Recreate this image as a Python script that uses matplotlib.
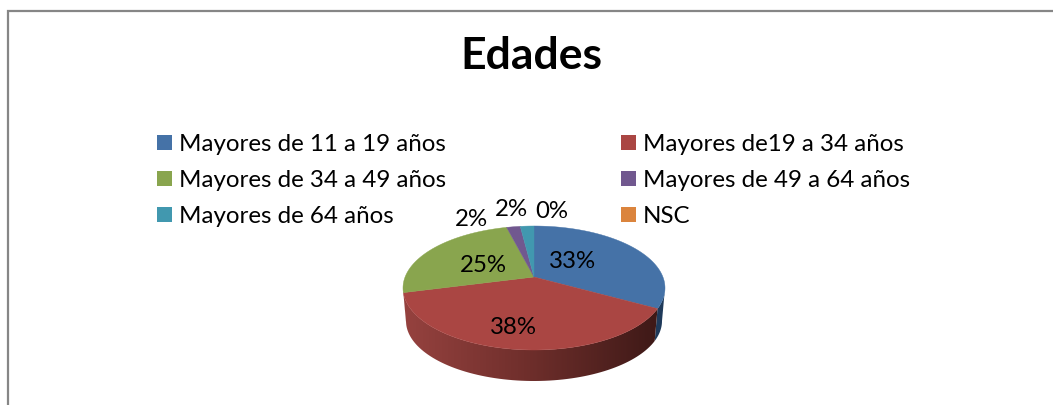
import numpy as np
import matplotlib
matplotlib.use('Agg')
import matplotlib.pyplot as plt
from matplotlib.colors import LinearSegmentedColormap
from matplotlib.patches import Patch, Polygon

title = 'Edades'
categories = ['Mayores de 11 a 19 años', 'Mayores de19 a 34 años', 'Mayores de 34 a 49 años',
              'Mayores de 49 a 64 años', 'Mayores de 64 años', 'NSC']
values = [33, 38, 25, 2, 2, 0]
colors = ['#4572A7', '#AA4643', '#89A54E', '#71588F', '#4198AF', '#DB843D']
side_colors = ['#1F3A5A', None, None, None, None, None]

label_pos = [(572, 261), (513, 327), (483, 265), (471, 220), (511, 210), (552, 211)]

plt.rcParams['font.family'] = ['Lato', 'DejaVu Sans']

# top face ellipse and bottom rim, in pixels
CX, CY, RX, RY = 534, 288, 131, 62
BX, BY, BRX, BRY = 534, 321, 128, 60
K = 11 / 62  # pushes the apex up, fakes the perspective


def rim(theta, cx, cy, rx, ry):
    u = np.sin(theta)
    v = np.cos(theta)
    d = 1 + K * v
    return np.column_stack([cx + rx * u * np.sqrt(1 - K ** 2) / d,
                            cy - ry * (v + K) / d])


fig = plt.figure(figsize=(10.53, 4.05), dpi=100)
ax = fig.add_axes([0, 0, 1, 1])

fracs = np.array(values) / sum(values)
edges = np.concatenate([[0], np.cumsum(fracs)]) * 2 * np.pi
sil = np.pi + np.arccos(K)          # left end of the visible side
sil_r = np.pi - np.arccos(K)        # right end

# side wall
cmap = LinearSegmentedColormap.from_list('side', ['#96423F', '#6E2E2B', '#3E1917'])
for i in range(len(values)):
    a, b = max(edges[i], sil_r), min(edges[i + 1], sil)
    if b <= a:
        continue
    t = np.linspace(a, b, 80)
    pts = np.vstack([rim(t, CX, CY, RX, RY), rim(t[::-1], BX, BY, BRX, BRY)])
    if side_colors[i]:
        ax.add_patch(Polygon(pts, closed=True, fc=side_colors[i], ec='none', zorder=2))
    else:
        face = Polygon(pts, closed=True, fc='none', ec='none', zorder=2)
        ax.add_patch(face)
        im = ax.imshow(np.linspace(0, 1, 256).reshape(1, -1), cmap=cmap, aspect='auto',
                       extent=(pts[:, 0].min(), pts[:, 0].max(), pts[:, 1].max(), pts[:, 1].min()), zorder=2)
        im.set_clip_path(face)

# top face
for i in range(len(values)):
    if values[i] == 0:
        continue
    t = np.linspace(edges[i], edges[i + 1], 120)
    pts = np.vstack([[CX, CY - RY * K], rim(t, CX, CY, RX, RY)])
    ax.add_patch(Polygon(pts, closed=True, fc=colors[i], ec=colors[i], lw=0.3, zorder=3))

for v, p in zip(values, label_pos):
    ax.text(p[0], p[1], f'{v}%', fontsize=17.3, color='black', ha='center', va='center', zorder=5)

ax.text(531, 56, title, fontsize=32, fontweight='bold', color='black', ha='center', va='center')

# row by row legend, matplotlib fills columns first
handles = [Patch(fc=c, ec='none') for c in colors]
order = [0, 2, 4, 1, 3, 5]
ax.legend([handles[i] for i in order], [categories[i] for i in order], ncol=2, frameon=False,
          loc='upper left', bbox_to_anchor=(157 / 1053, 1 - 134 / 405), prop={'size': 17.4},
          borderpad=0, borderaxespad=0, handlelength=0.63, handleheight=0.63, handletextpad=0.3,
          columnspacing=7.2, labelspacing=0.62, labelcolor='black')

# chart frame, cut off by the image on the right and bottom
ax.plot([8, 8, 1053], [405, 11, 11], color='#868686', lw=1.6, solid_joinstyle='miter')

ax.set_xlim(0, 1053)
ax.set_ylim(405, 0)
ax.axis('off')
fig.savefig('out.png', dpi=100, facecolor='white')
